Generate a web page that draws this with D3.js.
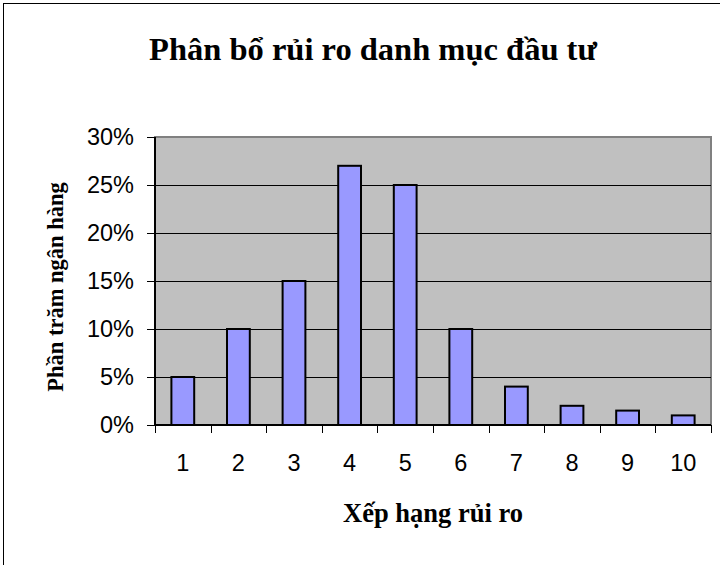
<!DOCTYPE html>
<html>
<head>
<meta charset="utf-8">
<script src="https://cdn.jsdelivr.net/npm/d3@7"></script>
<style>
  body { margin: 0; background: #fff; }
  svg { display: block; }
</style>
</head>
<body>
<svg id="chart" width="720" height="565"></svg>
<script>
const ranks = ["1", "2", "3", "4", "5", "6", "7", "8", "9", "10"];
const shares = [5, 10, 15, 27, 25, 10, 4, 2, 1.5, 1];
const yTicks = [0, 5, 10, 15, 20, 25, 30];

const svg = d3.select('#chart');
const width = +svg.attr('width');
const height = +svg.attr('height');

// chart frame (right and bottom edge fall outside the picture)
svg.append('rect')
  .attr('x', 3.5).attr('y', 3.5)
  .attr('width', width + 20).attr('height', height + 20)
  .attr('fill', '#fff').attr('stroke', '#000').attr('stroke-width', 1);

const plot = { left: 155, top: 137, right: 711, bottom: 425 };

const x = d3.scaleBand().domain(ranks).range([plot.left, plot.right]).paddingInner(0);
const y = d3.scaleLinear().domain([0, 30]).range([plot.bottom, plot.top]);

// plot area
svg.append('rect')
  .attr('x', plot.left).attr('y', plot.top)
  .attr('width', plot.right - plot.left).attr('height', plot.bottom - plot.top)
  .attr('fill', '#c0c0c0').attr('stroke', '#808080').attr('stroke-width', 2);

// gridlines
svg.append('g').selectAll('line').data(yTicks.filter(d => d > 0 && d < 30))
  .enter().append('line')
    .attr('x1', plot.left).attr('x2', plot.right)
    .attr('y1', d => Math.round(y(d)) + 0.5).attr('y2', d => Math.round(y(d)) + 0.5)
    .attr('stroke', '#000').attr('stroke-width', 1);

// bars
const barW = x.bandwidth() * 0.41;
svg.append('g').selectAll('rect').data(shares)
  .enter().append('rect')
    .attr('x', (d, i) => x(ranks[i]) + (x.bandwidth() - barW) / 2)
    .attr('y', d => y(d))
    .attr('width', barW)
    .attr('height', d => plot.bottom - y(d))
    .attr('fill', '#9999ff')
    .attr('stroke', '#000').attr('stroke-width', 2);

// y axis
const yAxis = d3.axisLeft(y).tickValues(yTicks).tickSize(8).tickPadding(13).tickFormat(d => d + '%');
const gy = svg.append('g').attr('transform', `translate(${plot.left},0)`).call(yAxis);
gy.select('.domain').attr('stroke', '#000').attr('stroke-width', 2).attr('d', `M0,${plot.top}V${plot.bottom}`);
gy.selectAll('.tick line').attr('stroke', '#000');
gy.selectAll('.tick text')
  .attr('font-family', 'Liberation Sans, Arial, sans-serif')
  .attr('font-size', 23.5).attr('fill', '#000');

// x axis: ticks on the category boundaries
const gx = svg.append('g').attr('transform', `translate(0,${plot.bottom})`);
gx.append('line')
  .attr('x1', plot.left).attr('x2', plot.right)
  .attr('y1', 0).attr('y2', 0)
  .attr('stroke', '#000').attr('stroke-width', 2);
const bounds = ranks.map(r => x(r)).concat([plot.right]);
gx.selectAll('line.tk').data(bounds)
  .enter().append('line')
    .attr('class', 'tk')
    .attr('x1', d => Math.round(d) + 0.5).attr('x2', d => Math.round(d) + 0.5)
    .attr('y1', 0).attr('y2', 8)
    .attr('stroke', '#000');
gx.selectAll('text').data(ranks)
  .enter().append('text')
    .attr('x', d => x(d) + x.bandwidth() / 2)
    .attr('y', 46)
    .attr('text-anchor', 'middle')
    .attr('font-family', 'Liberation Sans, Arial, sans-serif')
    .attr('font-size', 23.5)
    .text(d => d);

// titles
svg.append('text')
  .attr('x', 373).attr('y', 60)
  .attr('text-anchor', 'middle')
  .attr('font-family', 'Liberation Serif, Times New Roman, serif')
  .attr('font-weight', 'bold').attr('font-size', 32.5)
  .text('Phân bổ rủi ro danh mục đầu tư');

svg.append('text')
  .attr('x', 433).attr('y', 522)
  .attr('text-anchor', 'middle')
  .attr('font-family', 'Liberation Serif, Times New Roman, serif')
  .attr('font-weight', 'bold').attr('font-size', 26.5)
  .text('Xếp hạng rủi ro');

svg.append('text')
  .attr('transform', 'translate(63,287) rotate(-90)')
  .attr('text-anchor', 'middle')
  .attr('font-family', 'Liberation Serif, Times New Roman, serif')
  .attr('font-weight', 'bold').attr('font-size', 22.5)
  .text('Phần trăm ngân hàng');
</script>
</body>
</html>
